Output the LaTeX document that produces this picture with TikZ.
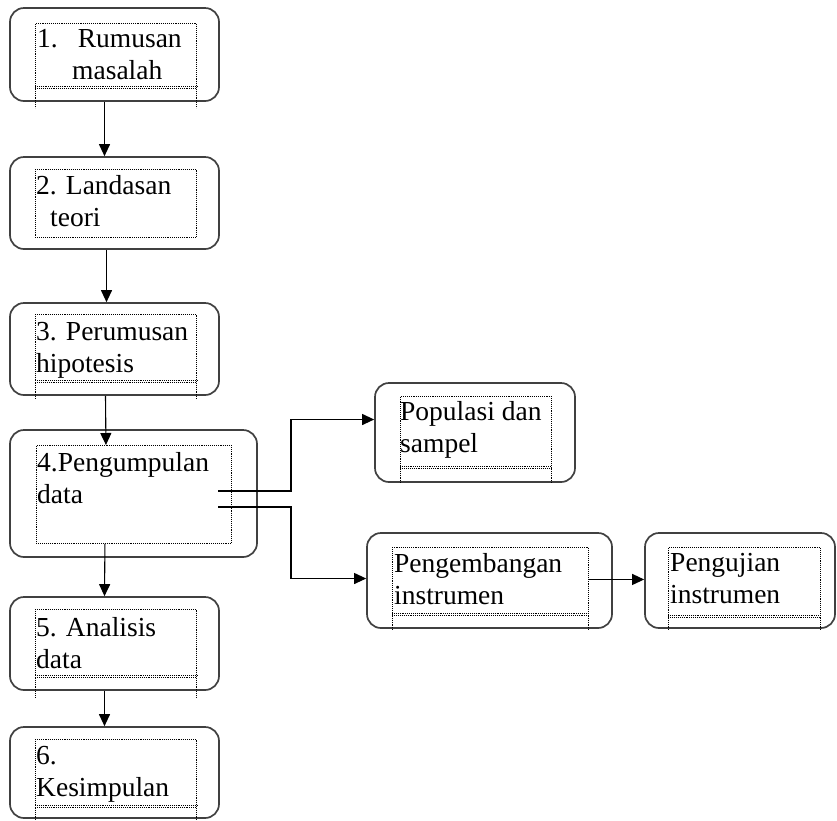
\documentclass[tikz,border=0pt]{standalone}
\usepackage{fontspec}
\setmainfont{Liberation Serif}
\usetikzlibrary{arrows.meta}

\tikzset{
  kotak/.style={draw=black!75,line width=1.7pt,rounded corners=14pt},
  isi/.style={draw,densely dotted,line width=.9pt,anchor=north west},
  teks/.style={anchor=north west,inner sep=0pt,align=left,font=\fontsize{27.5}{32}\selectfont},
  panah/.style={-{Triangle[length=12pt,width=11pt]},line width=1.1pt}
}

\begin{document}
\begin{tikzpicture}[x=1pt,y=-1pt]
    \useasboundingbox(0,0)rectangle(837,820);
    % langkah utama
    \node[kotak,minimum width=209pt,minimum height=93pt](k1)at(114.5,54.5){};
    \node[kotak,minimum width=209pt,minimum height=92pt](k2)at(114.5,203){};
    \node[kotak,minimum width=209pt,minimum height=92pt](k3)at(114.5,349){};
    \node[kotak,minimum width=247pt,minimum height=127pt](k4)at(133.5,493.5){};
    \node[kotak,minimum width=209pt,minimum height=93pt](k5)at(114.5,643.5){};
    \node[kotak,minimum width=209pt,minimum height=91pt](k6)at(114.5,772.5){};
    \node[kotak,minimum width=200pt,minimum height=99pt](pop)at(475,432.5){};
    \node[kotak,minimum width=245pt,minimum height=95pt](kem)at(489.5,580.5){};
    \node[kotak,minimum width=190pt,minimum height=95pt](uji)at(740,580.5){};
    % kotak bertitik
    \node[isi,minimum width=161pt,minimum height=65pt](d1)at(35,23){};
    \node[isi,minimum width=161pt,minimum height=68pt](d2)at(35,169){};
    \node[isi,minimum width=161pt,minimum height=68pt](d3)at(35,314){};
    \node[isi,minimum width=195pt,minimum height=98pt](d4)at(36,445){};
    \node[isi,minimum width=161pt,minimum height=68pt](d5)at(35,609){};
    \node[isi,minimum width=161pt,minimum height=68pt](d6)at(35,739){};
    \node[isi,minimum width=151pt,minimum height=72pt](dp)at(400,396){};
    \node[isi,minimum width=196pt,minimum height=68pt](dk)at(392,547){};
    \node[isi,minimum width=152pt,minimum height=70pt](du)at(668,547){};
    \foreach\d/\e in{d1/19,d3/16,d5/20,d6/13,dp/14,dk/15,du/13}{
      \draw[densely dotted,line width=.9pt]([yshift=2pt]\d.south west)--([yshift=2pt]\d.south east);
      \draw[densely dotted,line width=.9pt](\d.south west)--++(0,\e)(\d.south east)--++(0,\e);
    }
    % teks
    \node[teks](t1)at(37,29){1.\hspace{20pt}Rumusan\\\hspace{35pt}masalah};
    \node[teks](t2)at(36,175){2. Landasan\\\hspace{14pt}teori};
    \node[teks](t3)at(36,322){3. Perumusan\\hipotesis};
    \node[teks](t4)at(37,452){4.Pengumpulan\\data};
    \node[teks](t5)at(36,617){5. Analisis\\data};
    \node[teks](t6)at(36,746){6.\\Kesimpulan};
    \node[teks](tp)at(400,401){Populasi dan\\sampel};
    \node[teks](tk)at(394,553){Pengembangan\\instrumen};
    \node[teks](tu)at(670,553){Pengujian\\instrumen};
    % panah
    \draw[panah]([xshift=-10pt]k1.south)--([xshift=-10pt]k2.north);
    \draw[panah]([xshift=-8pt]k2.south)--([xshift=-8pt]k3.north);
    \draw[panah]([xshift=-9pt]k3.south)--([xshift=-28pt]d4.north);
    \draw[panah]([xshift=-29pt]d4.south)--([xshift=-10pt]k5.north);
    \draw[panah]([xshift=-10pt]k5.south)--([xshift=-10pt]k6.north);
    \coordinate(c1)at(218,491);
    \coordinate(c2)at(218,507);
    \draw[panah](c1)--++(73,0)|-([yshift=13pt]pop.west);
    \draw[panah](c2)--++(73,0)|-([yshift=2pt]kem.west);
    \draw[panah]([yshift=2pt]dk.east)--([yshift=2pt]dk.east-|uji.west);
  \end{tikzpicture}
\end{document}
